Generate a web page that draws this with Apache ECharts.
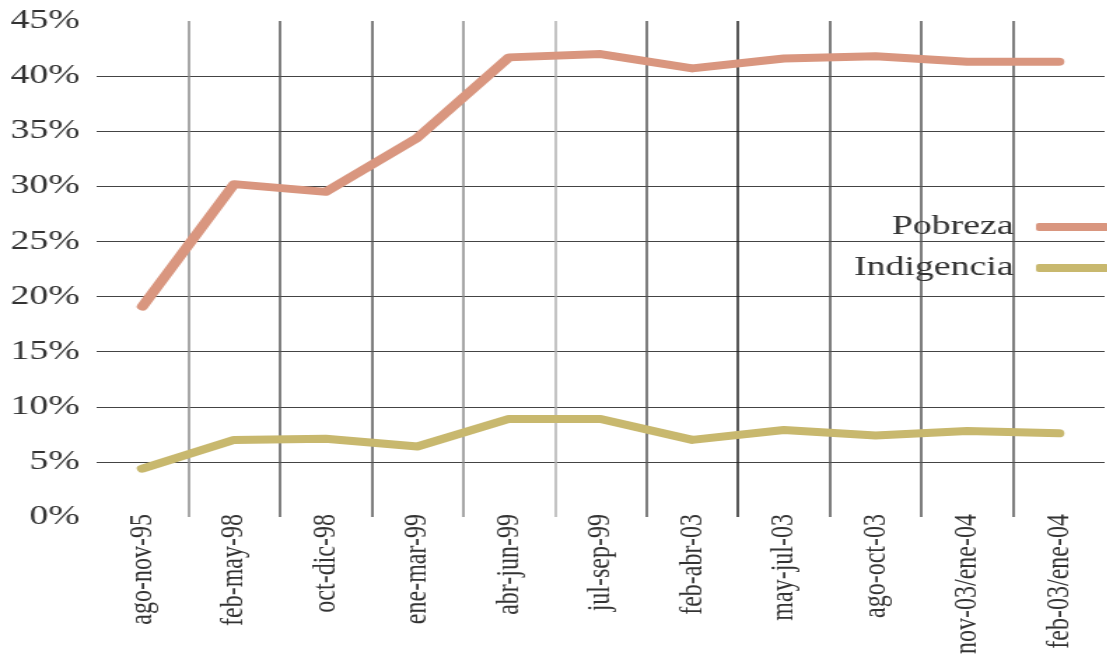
<!DOCTYPE html>
<html>
<head>
<meta charset="utf-8">
<title>Pobreza e Indigencia</title>
<script src="https://cdn.jsdelivr.net/npm/echarts@6/dist/echarts.min.js"></script>
<style>
	html, body { margin: 0; padding: 0; background: #fff; overflow: hidden; }
	/* the original picture is stretched sideways, so the chart is drawn narrow and widened */
	#chart-area { width: 791px; height: 657px; transform: scaleX(1.4); transform-origin: 0 0; }
</style>
</head>
<body>
<div id="chart-area"></div>
<script>
var categories = ['ago-nov-95', 'feb-may-98', 'oct-dic-98', 'ene-mar-99', 'abr-jun-99', 'jul-sep-99',
	'feb-abr-03', 'may-jul-03', 'ago-oct-03', 'nov-03/ene-04', 'feb-03/ene-04'];
var pobreza = [19.1, 30.2, 29.5, 34.4, 41.7, 42.0, 40.7, 41.6, 41.8, 41.3, 41.3];
var indigencia = [4.4, 7.0, 7.1, 6.4, 8.9, 8.9, 7.0, 7.9, 7.4, 7.8, 7.6];
var yTicks = [0, 45, 5];   // min, max, interval

var serif = '"Liberation Serif", "Times New Roman", serif';

var myChart = echarts.init(document.getElementById('chart-area'));
var option = {
	backgroundColor: '#fff',
	animation: false,
	grid: {
		left: 69,
		right: 2,
		top: 21,
		bottom: 138
	},
	legend: {
		orient: 'vertical',
		right: -6,
		top: 207,
		align: 'right',
		itemWidth: 52,
		itemHeight: 8,
		itemGap: 11,
		icon: 'roundRect',
		textStyle: {
			fontFamily: serif,
			fontSize: 27,
			color: '#333',
			lineHeight: 30,
			padding: [0, 11, 0, 0]
		},
		data: ['Pobreza', 'Indigencia']
	},
	xAxis: {
		type: 'category',
		data: categories,
		boundaryGap: true,
		axisLine: { show: false },
		axisTick: { show: false },
		axisLabel: {
			rotate: 90,
			margin: -3,
			fontFamily: serif,
			fontSize: 24,
			color: '#333'
		},
		splitLine: {
			show: true,
			showMinLine: false,
			showMaxLine: false,
			lineStyle: {
				width: 1.5,
				color: ['#8a8a8a', '#555', '#555', '#8a8a8a', '#b0b0b0', '#555', '#222', '#555', '#555', '#555']
			}
		}
	},
	yAxis: {
		type: 'value',
		min: yTicks[0],
		max: yTicks[1],
		interval: yTicks[2],
		axisLine: { show: false },
		axisTick: { show: false },
		axisLabel: {
			formatter: '{value}%',
			margin: 12,
			fontFamily: serif,
			fontSize: 27,
			color: '#333'
		},
		splitLine: {
			show: true,
			showMinLine: false,
			showMaxLine: false,
			lineStyle: { color: '#444', width: 1 }
		}
	},
	series: [
		{
			name: 'Pobreza',
			type: 'line',
			data: pobreza,
			symbol: 'none',
			itemStyle: { color: '#d9967f' },
			lineStyle: { color: '#d9967f', width: 8, cap: 'round', join: 'round' }
		},
		{
			name: 'Indigencia',
			type: 'line',
			data: indigencia,
			symbol: 'none',
			itemStyle: { color: '#c8b86e' },
			lineStyle: { color: '#c8b86e', width: 8, cap: 'round', join: 'round' }
		}
	]
};
myChart.setOption(option);
</script>
</body>
</html>
